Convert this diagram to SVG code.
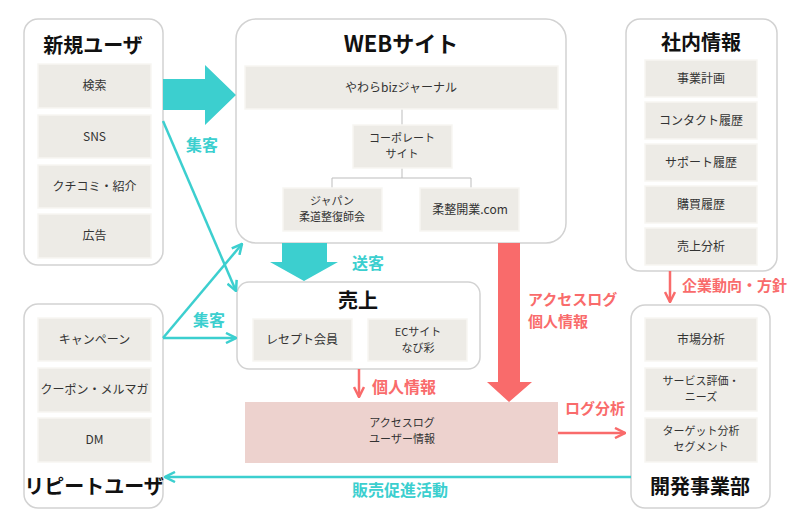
<svg xmlns="http://www.w3.org/2000/svg" width="800" height="532" viewBox="0 0 800 532">
<style>
.node{fill:#fff;stroke:#d2d2d2;stroke-width:1.5}
.box{fill:#edebe6;stroke:#f7f6f2;stroke-width:1.5}
.t{font-family:"Noto Sans CJK JP","Noto Sans",sans-serif;font-size:12px;fill:#333;text-anchor:middle}
.t2{font-size:11px}
.h{font-family:"Noto Sans CJK JP","Noto Sans",sans-serif;font-size:20px;font-weight:bold;fill:#111;text-anchor:middle}
.lt{font-family:"Noto Sans CJK JP","Noto Sans",sans-serif;font-size:16px;font-weight:bold;fill:#3ccfcf}
.lr{font-family:"Noto Sans CJK JP","Noto Sans",sans-serif;font-size:16px;font-weight:bold;fill:#f96b6b}
.teal{stroke:#3ccfcf;stroke-width:2.5;fill:none}
.red{stroke:#f96b6b;stroke-width:2.5;fill:none}
.tree{stroke:#bdbdbd;stroke-width:1;fill:none}
</style>
<defs>
<marker id="ot" viewBox="0 0 12 12" refX="11" refY="6" markerWidth="12" markerHeight="12" markerUnits="userSpaceOnUse" orient="auto"><polyline points="1,1 11,6 1,11" fill="none" stroke="#3ccfcf" stroke-width="2.5"/></marker>
<marker id="or" viewBox="0 0 12 12" refX="11" refY="6" markerWidth="12" markerHeight="12" markerUnits="userSpaceOnUse" orient="auto"><polyline points="1,1 11,6 1,11" fill="none" stroke="#f96b6b" stroke-width="2.5"/></marker>
</defs>

<g id="new-users">
<rect class="node" x="24" y="19" width="139" height="246" rx="14"/>
<text class="h" x="93" y="53">新規ユーザ</text>
<rect class="box" x="38" y="64" width="113" height="44"/><text class="t" x="94.5" y="90">検索</text>
<rect class="box" x="38" y="115" width="113" height="43"/><text class="t" x="94.5" y="141">SNS</text>
<rect class="box" x="38" y="165" width="113" height="43"/><text class="t" x="94.5" y="191">クチコミ・紹介</text>
<rect class="box" x="38" y="214" width="113" height="44"/><text class="t" x="94.5" y="240">広告</text>
</g>

<g id="web">
<rect class="node" x="236" y="19" width="330" height="224" rx="20"/>
<text class="h" x="401" y="52" style="font-size:22px">WEBサイト</text>
<path class="tree" d="M402,109V125M402,168V178M332,178H471M332,178V188M471,178V188"/>
<rect class="box" x="245" y="66" width="313" height="43"/><text class="t" x="401" y="92">やわらbizジャーナル</text>
<rect class="box" x="353" y="125" width="99" height="43"/><text class="t t2" x="402" y="142">コーポレート<tspan x="402" dy="16">サイト</tspan></text>
<rect class="box" x="283" y="188" width="99" height="43"/><text class="t t2" x="332" y="205">ジャパン<tspan x="332" dy="16">柔道整復師会</tspan></text>
<rect class="box" x="420" y="188" width="99" height="43"/><text class="t" x="470" y="214">柔整開業.com</text>
</g>

<g id="internal">
<rect class="node" x="626" y="19" width="151" height="252" rx="14"/>
<text class="h" x="701" y="50">社内情報</text>
<rect class="box" x="645" y="60" width="112" height="37"/><text class="t" x="701" y="83">事業計画</text>
<rect class="box" x="645" y="102" width="112" height="37"/><text class="t" x="701" y="125">コンタクト履歴</text>
<rect class="box" x="645" y="144" width="112" height="37"/><text class="t" x="701" y="167">サポート履歴</text>
<rect class="box" x="645" y="186" width="112" height="37"/><text class="t" x="701" y="209">購買履歴</text>
<rect class="box" x="645" y="228" width="112" height="37"/><text class="t" x="701" y="251">売上分析</text>
</g>

<g id="sales">
<rect class="node" x="237" y="282" width="243" height="87" rx="12"/>
<text class="h" x="358" y="308">売上</text>
<rect class="box" x="253" y="319" width="99" height="42"/><text class="t" x="302" y="344">レセプト会員</text>
<rect class="box" x="368" y="319" width="99" height="42"/><text class="t t2" x="418" y="336">ECサイト<tspan x="418" dy="16">なび彩</tspan></text>
</g>

<g id="repeat-users">
<rect class="node" x="24" y="304" width="139" height="204" rx="14"/>
<rect class="box" x="38" y="318" width="113" height="43"/><text class="t" x="94.5" y="344">キャンペーン</text>
<rect class="box" x="38" y="368" width="113" height="44"/><text class="t" x="94.5" y="394">クーポン・メルマガ</text>
<rect class="box" x="38" y="418" width="113" height="44"/><text class="t" x="94.5" y="444">DM</text>
<text class="h" x="94" y="494">リピートユーザ</text>
</g>

<g id="access-log">
<rect x="245" y="402" width="313" height="61" fill="#edd2ce"/>
<text class="t t2" x="402" y="427">アクセスログ<tspan x="402" dy="16">ユーザー情報</tspan></text>
</g>

<g id="dev">
<rect class="node" x="631" y="305" width="139" height="203" rx="14"/>
<rect class="box" x="645" y="318" width="112" height="43"/><text class="t" x="701" y="344">市場分析</text>
<rect class="box" x="645" y="368" width="112" height="43"/><text class="t t2" x="701" y="385">サービス評価・<tspan x="701" dy="16">ニーズ</tspan></text>
<rect class="box" x="645" y="418" width="112" height="44"/><text class="t t2" x="701" y="435">ターゲット分析<tspan x="701" dy="16">セグメント</tspan></text>
<text class="h" x="700" y="494">開発事業部</text>
</g>

<g id="connectors">
<polygon points="163,79 205,79 205,65 236,95 205,125 205,110 163,110" fill="#3ccfcf"/>
<text class="lt" x="186" y="151">集客</text>
<line class="teal" x1="163" y1="121" x2="236" y2="291" marker-end="url(#ot)"/>
<line class="teal" x1="163" y1="338" x2="242" y2="244" marker-end="url(#ot)"/>
<line class="teal" x1="163" y1="338" x2="236" y2="338" marker-end="url(#ot)"/>
<text class="lt" x="193" y="326">集客</text>
<polygon points="282,243 327,243 327,262 338,262 304,281 270,262 282,262" fill="#3ccfcf"/>
<text class="lt" x="352" y="269">送客</text>
<polygon points="498,243 520,243 520,382 532,382 509,402 487,382 498,382" fill="#f96b6b"/>
<text class="lr" x="528" y="305" style="font-size:15px">アクセスログ<tspan x="528" dy="22">個人情報</tspan></text>
<line class="red" x1="359" y1="369" x2="359" y2="397" marker-end="url(#or)"/>
<text class="lr" x="372" y="393">個人情報</text>
<line class="red" x1="670" y1="271" x2="670" y2="302" marker-end="url(#or)"/>
<text class="lr" x="682" y="291" style="font-size:15px">企業動向・方針</text>
<line class="red" x1="558" y1="433" x2="625" y2="433" marker-end="url(#or)"/>
<text class="lr" x="565" y="414" style="font-size:15px">ログ分析</text>
<line class="teal" x1="631" y1="477" x2="165" y2="477" marker-end="url(#ot)"/>
<text class="lt" x="400" y="496" text-anchor="middle">販売促進活動</text>
</g>
</svg>
